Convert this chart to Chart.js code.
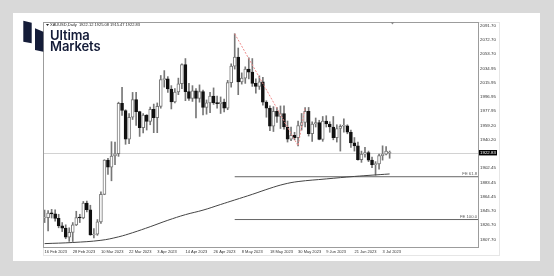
<!DOCTYPE html>
<html>
<head>
<meta charset="utf-8">
<script src="https://cdn.jsdelivr.net/npm/chart.js@4"></script>
<style>
  html, body { margin: 0; padding: 0; }
  body { width: 554px; height: 276px; background: #d9d9d9; position: relative; overflow: hidden; }
  #card { position: absolute; left: 13px; top: 13px; width: 527px; height: 248px; background: #fff; }
  #card canvas { position: absolute; left: 0; top: 0; }
  #logoIcon { position: absolute; left: 10px; top: 7px; }
  .logoText { position: absolute; left: 37px; font-family: Inter, "Noto Sans", sans-serif; font-weight: 600;
              font-size: 13px; line-height: 13px; color: #141c38; letter-spacing: -0.1px; white-space: nowrap; }
</style>
</head>
<body>
<div id="card">
  <canvas id="chart" width="527" height="248"></canvas>
  <svg id="logoIcon" width="22" height="33" viewBox="0 0 22 33">
    <polygon points="0.3,0.7 8.7,2.7 8.7,23.3 0.3,21.7" fill="#141c38"/>
    <polygon points="12,8.3 20.3,11.7 20.3,31.7 12,30" fill="#141c38"/>
  </svg>
  <div class="logoText" style="top:16px">Ultima</div>
  <div class="logoText" style="top:27px">Markets</div>
</div>
<script>
// XAUUSD daily, 16 Feb 2023 - 5 Jul 2023
const title = "XAUUSD,Daily  1922.12 1925.08 1915.47 1922.83";
const xTickLabels = ["16 Feb 2023", "28 Feb 2023", "10 Mar 2023", "22 Mar 2023", "3 Apr 2023", "14 Apr 2023",
  "26 Apr 2023", "8 May 2023", "18 May 2023", "30 May 2023", "9 Jun 2023", "21 Jun 2023", "3 Jul 2023"];
const barsPerLabel = 8;

const opens = [
  1836.0, 1836.5, 1842.5, 1841.5, 1835.5, 1825.5, 1822.5, 1810.5, 1817.0, 1827.0,
  1836.5, 1836.0, 1856.0, 1847.0, 1813.5, 1814.5, 1831.0, 1867.5, 1913.0, 1903.5,
  1918.5, 1921.5, 1988.5, 1979.0, 1941.0, 1970.0, 1993.5, 1977.5, 1956.0, 1973.0,
  1964.5, 1980.5, 1969.5, 1984.5, 2020.0, 2021.0, 2007.5, 1990.5, 2003.5, 2014.5,
  2040.0, 2004.0, 1995.0, 2005.0, 1995.0, 2004.0, 1983.0, 1989.0, 1998.0, 1989.0,
  1988.0, 1990.0, 1982.0, 2016.0, 2038.0, 2050.0, 2017.0, 2022.0, 2034.0, 2030.0,
  2015.0, 2011.0, 2017.0, 1990.0, 1982.0, 1958.0, 1978.0, 1971.0, 1975.0, 1957.0,
  1941.0, 1946.0, 1943.0, 1959.0, 1963.0, 1978.0, 1948.0, 1961.0, 1963.0, 1940.5,
  1965.0, 1961.0, 1957.0, 1943.0, 1955.0, 1958.0, 1958.5, 1950.0, 1936.0, 1932.0,
  1913.5, 1921.0, 1923.0, 1913.0, 1907.0, 1908.0, 1919.0, 1921.0, 1922.12
];
const highs = [
  1846.6, 1846.0, 1847.5, 1847.0, 1841.0, 1830.0, 1827.0, 1823.0, 1830.0, 1845.0,
  1841.0, 1858.0, 1858.5, 1853.0, 1822.0, 1834.0, 1871.0, 1913.5, 1915.5, 1937.5,
  1937.0, 1990.0, 2009.7, 1980.0, 1975.0, 2003.0, 2003.0, 1978.0, 1975.0, 1973.5,
  1983.5, 1987.5, 1989.0, 2025.5, 2032.0, 2024.0, 2012.0, 2008.0, 2022.0, 2041.0,
  2048.0, 2015.0, 2012.0, 2008.0, 2013.0, 2006.0, 1993.0, 2003.0, 2009.0, 1998.0,
  1997.0, 1994.0, 2019.0, 2041.0, 2081.0, 2062.0, 2029.0, 2037.0, 2049.0, 2048.0,
  2021.0, 2025.0, 2023.0, 1992.0, 1985.0, 1984.0, 1983.0, 1985.0, 1985.0, 1965.0,
  1957.0, 1950.0, 1965.0, 1975.0, 1983.0, 1983.0, 1964.0, 1969.0, 1966.0, 1971.0,
  1972.0, 1964.0, 1971.0, 1960.0, 1960.0, 1968.0, 1960.0, 1953.0, 1943.0, 1937.0,
  1925.0, 1930.0, 1925.0, 1917.0, 1911.0, 1921.0, 1932.0, 1931.0, 1925.08
];
const lows = [
  1830.0, 1819.0, 1836.0, 1832.0, 1823.0, 1818.0, 1808.5, 1805.0, 1804.8, 1826.0,
  1830.0, 1835.0, 1844.0, 1813.0, 1809.5, 1813.0, 1829.0, 1867.0, 1894.0, 1885.5,
  1907.0, 1918.0, 1972.5, 1934.0, 1935.0, 1967.0, 1959.0, 1944.5, 1949.0, 1953.0,
  1960.0, 1949.5, 1949.5, 1982.0, 2010.0, 2003.0, 1981.0, 1989.0, 2000.0, 2008.0,
  1992.0, 1992.5, 1991.0, 1969.0, 1990.0, 1973.0, 1974.0, 1976.0, 1987.0, 1982.0,
  1975.0, 1977.0, 1980.0, 2010.0, 2034.0, 2000.0, 2014.0, 2015.0, 2021.0, 2011.0,
  2002.0, 2007.0, 1986.0, 1970.0, 1952.0, 1951.0, 1963.0, 1955.0, 1954.0, 1937.0,
  1939.0, 1940.0, 1932.0, 1953.0, 1957.0, 1945.0, 1938.0, 1957.0, 1940.0, 1938.0,
  1957.0, 1950.0, 1940.0, 1937.0, 1925.0, 1950.0, 1948.0, 1930.0, 1925.0, 1913.0,
  1910.0, 1917.0, 1911.0, 1903.0, 1893.0, 1901.0, 1913.0, 1920.0, 1915.47
];
const closes = [
  1836.5, 1842.5, 1841.5, 1835.5, 1825.5, 1822.5, 1810.5, 1817.0, 1827.0, 1836.5,
  1836.0, 1856.0, 1847.0, 1813.5, 1814.5, 1831.0, 1867.5, 1913.0, 1903.5, 1918.5,
  1921.5, 1988.5, 1979.0, 1941.0, 1970.0, 1993.5, 1977.5, 1956.0, 1973.0, 1964.5,
  1980.5, 1969.5, 1984.5, 2020.0, 2021.0, 2007.5, 1990.5, 2003.5, 2014.5, 2040.0,
  2004.0, 1995.0, 2005.0, 1995.0, 2004.0, 1983.0, 1989.0, 1998.0, 1989.0, 1988.0,
  1990.0, 1982.0, 2016.0, 2038.0, 2050.0, 2017.0, 2022.0, 2034.0, 2030.0, 2015.0,
  2011.0, 2017.0, 1990.0, 1982.0, 1958.0, 1978.0, 1971.0, 1975.0, 1957.0, 1941.0,
  1946.0, 1943.0, 1959.0, 1963.0, 1978.0, 1948.0, 1961.0, 1963.0, 1940.5, 1965.0,
  1961.0, 1957.0, 1943.0, 1955.0, 1958.0, 1958.5, 1950.0, 1936.0, 1932.0, 1913.5,
  1921.0, 1923.0, 1913.0, 1907.0, 1908.0, 1919.0, 1921.0, 1925.0, 1922.83
];

// moving average, read at some bars
const maBars = [0, 8, 16, 21, 25, 30, 35, 40, 45, 50, 54, 59, 64, 68, 72, 80, 88, 98];
const maValues = [1802.0, 1803.5, 1806.4, 1811.0, 1816.5, 1824.5, 1833.0, 1840.5, 1846.5, 1854.0,
  1860.0, 1867.5, 1875.5, 1881.0, 1884.5, 1888.0, 1891.3, 1894.6];

// fibo expansion anchors (bar index) and levels
const feBars = [54, 72, 74];
const feLevels = [61.8, 100.0];

const yTicks = [2091.70, 2072.70, 2053.70, 2034.95, 2015.95, 1996.95, 1977.95, 1959.20, 1940.20,
  1902.45, 1883.45, 1864.45, 1845.70, 1826.70, 1807.70];
const yMin = 1797.5, yMax = 2096.6;
const xMin = -0.45, xMax = 123.1;

const last = closes.length - 1;
const feA = highs[feBars[0]], feB = lows[feBars[1]], feC = highs[feBars[2]];
const feValue = lvl => feC - (feA - feB) * lvl / 100;

const bodies = opens.map((o, i) => ({ x: i, y: [o, closes[i]] }));
const wicks = lows.map((l, i) => ({ x: i, y: [l, highs[i]] }));
const isUp = i => closes[i] >= opens[i];

const font = "Liberation Sans, Arial, sans-serif";

const overlay = {
  id: "mtOverlay",
  beforeDatasetsDraw(chart) {
    const { ctx, chartArea: a, scales: { y } } = chart;
    const py = Math.round(y.getPixelForValue(closes[last])) + 0.5;
    ctx.save();
    ctx.strokeStyle = "#d2d2d2";
    ctx.lineWidth = 1;
    ctx.beginPath();
    ctx.moveTo(a.left, py);
    ctx.lineTo(a.right, py);
    ctx.stroke();
    ctx.restore();
  },
  afterDraw(chart) {
    const { ctx, chartArea: a, scales: { x, y } } = chart;
    ctx.save();
    // outer frame of the screenshot
    ctx.strokeStyle = "#e6e6e6";
    ctx.lineWidth = 1;
    ctx.strokeRect(a.left + 0.5, a.top + 0.5, a.right - a.left + 21, a.bottom - a.top + 8);
    // plot border
    ctx.strokeStyle = "#9c9c9c";
    ctx.strokeRect(a.left + 0.5, a.top + 0.5, a.right - a.left, a.bottom - a.top);

    // title
    ctx.fillStyle = "#222";
    ctx.beginPath();
    ctx.moveTo(a.left + 3, a.top + 2);
    ctx.lineTo(a.left + 6, a.top + 2);
    ctx.lineTo(a.left + 4.5, a.top + 4);
    ctx.fill();
    ctx.font = "4px " + font;
    ctx.textBaseline = "middle";
    ctx.textAlign = "left";
    ctx.fillText(title, a.left + 7, a.top + 3);

    // shift marker
    const sx = x.getPixelForValue(98.8);
    ctx.fillStyle = "#8a8a8a";
    ctx.beginPath();
    ctx.moveTo(sx - 2, a.top);
    ctx.lineTo(sx + 2, a.top);
    ctx.lineTo(sx, a.top + 2.5);
    ctx.fill();

    // fibo labels
    ctx.fillStyle = "#555";
    ctx.font = "4.2px " + font;
    ctx.textAlign = "right";
    ctx.textBaseline = "bottom";
    feLevels.forEach(l => {
      ctx.fillText("FE " + l.toFixed(1), a.right - 1, y.getPixelForValue(feValue(l)) - 0.5);
    });

    // current price box
    const py = y.getPixelForValue(closes[last]);
    ctx.fillStyle = "#000";
    ctx.fillRect(a.right + 1, py - 2.7, 18, 5.4);
    ctx.fillStyle = "#fff";
    ctx.font = "4.4px " + font;
    ctx.textAlign = "left";
    ctx.textBaseline = "middle";
    ctx.fillText(closes[last].toFixed(2), a.right + 2, py + 0.2);
    ctx.restore();
  }
};

new Chart(document.getElementById("chart"), {
  type: "bar",
  data: {
    datasets: [
      {
        type: "line",
        data: maBars.map((b, i) => ({ x: b, y: maValues[i] })),
        borderColor: "#444",
        borderWidth: 1,
        pointRadius: 0,
        tension: 0.4,
        order: 0
      },
      {
        type: "line",
        data: feBars.map((b, i) => ({ x: b, y: i === 1 ? feB : (i === 0 ? feA : feC) })),
        borderColor: "#ee8a8a",
        borderWidth: 1,
        borderDash: [2, 1.5],
        pointRadius: 0,
        order: 0
      },
      ...feLevels.map(l => ({
        type: "line",
        data: [{ x: feBars[0], y: feValue(l) }, { x: xMax, y: feValue(l) }],
        borderColor: "#666",
        borderWidth: 1,
        pointRadius: 0,
        order: 0
      })),
      {
        data: wicks,
        backgroundColor: "#777",
        borderWidth: 0,
        barThickness: 1,
        grouped: false,
        order: 2
      },
      {
        data: bodies,
        backgroundColor: bodies.map((_, i) => isUp(i) ? "#fff" : "#111"),
        borderColor: bodies.map((_, i) => isUp(i) ? "#777" : "#111"),
        borderWidth: 1,
        borderSkipped: false,
        barThickness: 3,
        minBarLength: 1,
        grouped: false,
        order: 1
      }
    ]
  },
  options: {
    responsive: false,
    animation: false,
    layout: { padding: { left: 30, top: 9, right: 0, bottom: 0 } },
    plugins: { legend: { display: false }, tooltip: { enabled: false } },
    scales: {
      x: {
        type: "linear",
        min: xMin,
        max: xMax,
        offset: false,
        grid: { display: false, drawTicks: false },
        border: { display: false },
        afterBuildTicks: s => { s.ticks = xTickLabels.map((_, i) => ({ value: i * barsPerLabel })); },
        afterFit: s => { s.height = 14; },
        ticks: {
          autoSkip: false,
          maxRotation: 0,
          align: "start",
          padding: 2,
          color: "#333",
          font: { family: font, size: 4 },
          callback: (v, i) => xTickLabels[i]
        }
      },
      y: {
        position: "right",
        min: yMin,
        max: yMax,
        grid: { display: false, drawTicks: false },
        border: { display: false },
        afterBuildTicks: s => { s.ticks = yTicks.map(v => ({ value: v })); },
        afterFit: s => { s.width = 62; },
        ticks: {
          autoSkip: false,
          padding: 2,
          crossAlign: "near",
          color: "#333",
          font: { family: font, size: 4.4 },
          callback: v => v.toFixed(2)
        }
      }
    }
  },
  plugins: [overlay]
});
</script>
</body>
</html>
